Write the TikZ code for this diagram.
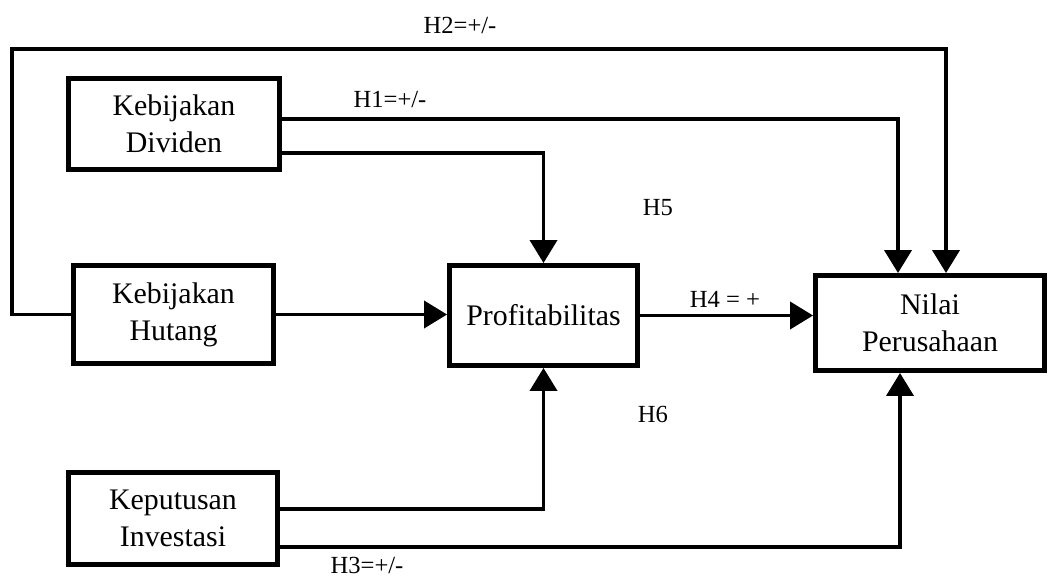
\documentclass[tikz,border=0pt]{standalone}
\usepackage{fontspec}
\setmainfont{Liberation Serif}
\usetikzlibrary{arrows.meta, positioning, calc}

\begin{document}
\begin{tikzpicture}[x=0.02cm, y=-0.02cm,
  box/.style={draw, rectangle, line width=2.8pt, align=center, inner sep=0pt,
    font=\fontsize{17}{21}\selectfont},
  conn/.style={line width=2.2pt, -{Triangle[length=0.46cm, width=0.54cm]}},
  lbl/.style={font=\fontsize{14}{16}\selectfont, inner sep=1pt}]
\useasboundingbox (0,0) rectangle (1050,577);

% Nodes
\node[box, minimum width=4.22cm, minimum height=1.82cm] (div) at (174,124) {Kebijakan\\Dividen};
\node[box, minimum width=4.0cm, minimum height=1.96cm] (hut) at (173.5,314.5) {Kebijakan\\Hutang};
\node[box, minimum width=4.18cm, minimum height=1.84cm] (inv) at (173,518.5) {Keputusan\\Investasi};
\node[box, minimum width=3.76cm, minimum height=2.0cm] (prof) at (543.5,315.5) {Profitabilitas};
\node[box, minimum width=4.58cm, minimum height=1.9cm] (nilai) at (930,323) {Nilai\\Perusahaan};

% Arrows
\coordinate (h2top) at (946,49);
\draw[conn] (hut.west) -- ++(-59,0) |- (h2top) -- (h2top |- nilai.north);
\draw[conn] ($(div.east)+(0,-5)$) -| ($(nilai.north)+(-32,0)$);
\draw[conn] ($(div.east)+(0,29)$) -| (prof.north);
\draw[conn] (hut.east) -- (hut.east -| prof.west);
\draw[conn] (prof.east) -- (prof.east -| nilai.west);
\draw[conn] ($(inv.east)+(0,-9.5)$) -| (prof.south);
\draw[conn] ($(inv.east)+(0,28.5)$) -| ($(nilai.south)+(-30,0)$);

% Annotations
\node[lbl] (h2) at (460,25) {H2=+/-};
\node[lbl] (h1) at (390,100) {H1=+/-};
\node[lbl] (h5) at (658,208) {H5};
\node[lbl] (h4) at (725,299) {H4 = +};
\node[lbl] (h6) at (653,414) {H6};
\node[lbl] (h3) at (367,565) {H3=+/-};
\end{tikzpicture}
\end{document}
